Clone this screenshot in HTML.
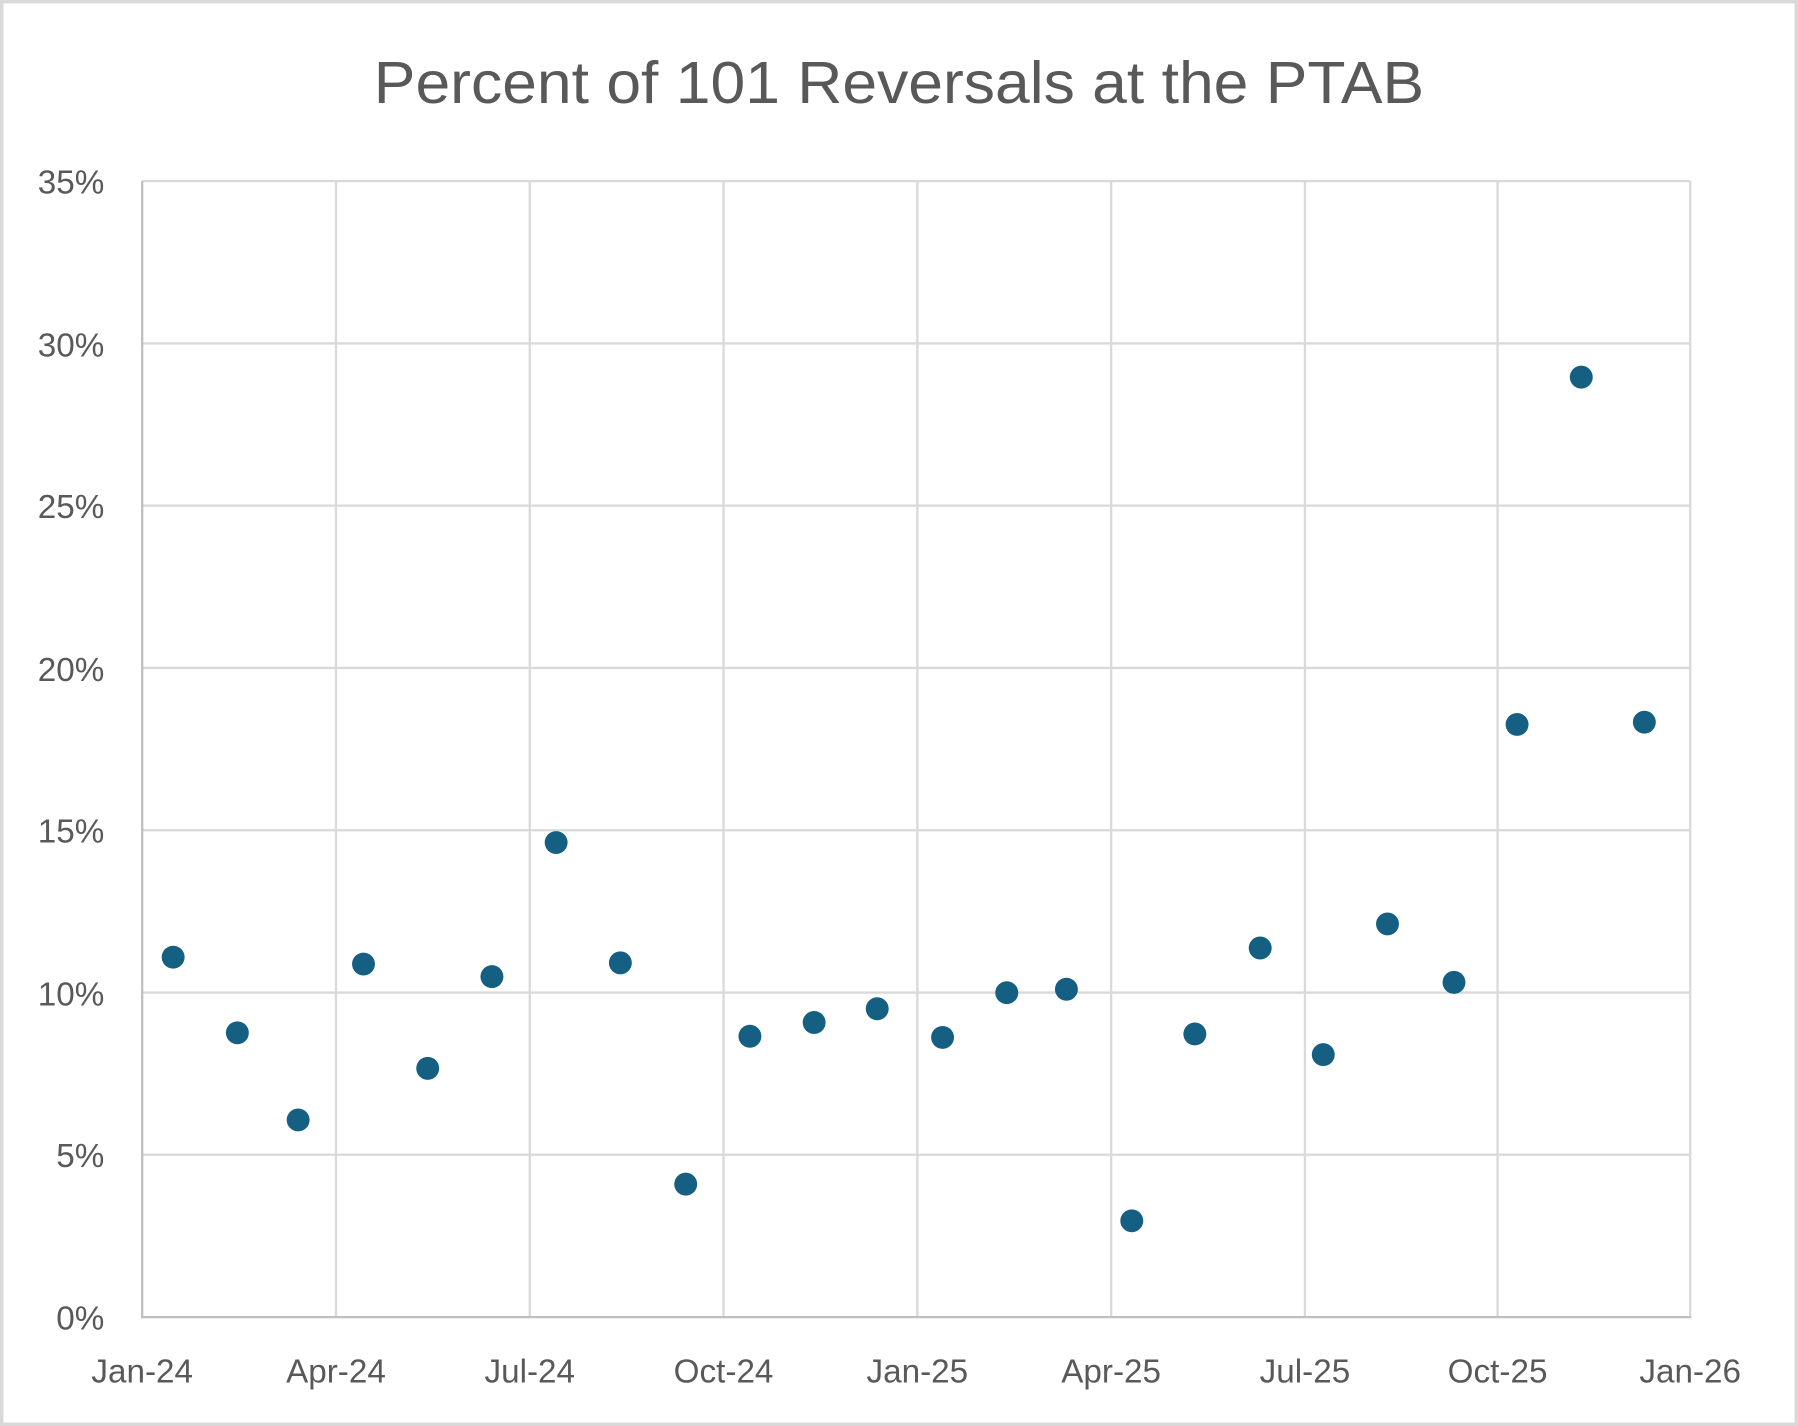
<!DOCTYPE html>
<html><head><meta charset="utf-8"><style>
html,body{margin:0;padding:0;background:#fff;}
svg{display:block;}
text{font-family:"Liberation Sans",sans-serif;fill:#595959;}
</style></head><body>
<svg width="1798" height="1426" viewBox="0 0 1568 1244" preserveAspectRatio="none">
<rect x="1.5" y="1.5" width="1565" height="1241" fill="#fff" stroke="#d9d9d9" stroke-width="3"/>
<text x="784" y="90" font-size="52" text-anchor="middle" textLength="916" lengthAdjust="spacingAndGlyphs">Percent of 101 Reversals at the PTAB</text>
<g stroke="#d9d9d9" stroke-width="2">
<line x1="124" y1="158" x2="1474" y2="158"/>
<line x1="124" y1="299.6" x2="1474" y2="299.6"/>
<line x1="124" y1="441.1" x2="1474" y2="441.1"/>
<line x1="124" y1="582.7" x2="1474" y2="582.7"/>
<line x1="124" y1="724.3" x2="1474" y2="724.3"/>
<line x1="124" y1="865.9" x2="1474" y2="865.9"/>
<line x1="124" y1="1007.4" x2="1474" y2="1007.4"/>
<line x1="293" y1="158" x2="293" y2="1149"/>
<line x1="462" y1="158" x2="462" y2="1149"/>
<line x1="631" y1="158" x2="631" y2="1149"/>
<line x1="800" y1="158" x2="800" y2="1149"/>
<line x1="969" y1="158" x2="969" y2="1149"/>
<line x1="1138" y1="158" x2="1138" y2="1149"/>
<line x1="1306" y1="158" x2="1306" y2="1149"/>
<line x1="1474" y1="158" x2="1474" y2="1149"/>
</g>
<g stroke="#bfbfbf" stroke-width="2">
<line x1="124" y1="158" x2="124" y2="1150"/>
<line x1="123" y1="1149" x2="1475" y2="1149"/>
</g>
<g font-size="29" text-anchor="end">
<text x="91" y="169">35%</text>
<text x="91" y="311">30%</text>
<text x="91" y="452">25%</text>
<text x="91" y="594">20%</text>
<text x="91" y="735">15%</text>
<text x="91" y="877">10%</text>
<text x="91" y="1018">5%</text>
<text x="91" y="1160">0%</text>
</g>
<g font-size="29" text-anchor="middle">
<text x="124" y="1206">Jan-24</text>
<text x="293" y="1206">Apr-24</text>
<text x="462" y="1206">Jul-24</text>
<text x="631" y="1206">Oct-24</text>
<text x="800" y="1206">Jan-25</text>
<text x="969" y="1206">Apr-25</text>
<text x="1138" y="1206">Jul-25</text>
<text x="1306" y="1206">Oct-25</text>
<text x="1474" y="1206">Jan-26</text>
</g>
<g fill="#156082">
<circle cx="151" cy="835" r="10"/>
<circle cx="207" cy="901" r="10"/>
<circle cx="260" cy="977" r="10"/>
<circle cx="317" cy="841" r="10"/>
<circle cx="373" cy="932" r="10"/>
<circle cx="429" cy="852" r="10"/>
<circle cx="485" cy="735" r="10"/>
<circle cx="541" cy="840" r="10"/>
<circle cx="598" cy="1033" r="10"/>
<circle cx="654" cy="904" r="10"/>
<circle cx="710" cy="892" r="10"/>
<circle cx="765" cy="880" r="10"/>
<circle cx="822" cy="905" r="10"/>
<circle cx="878" cy="866" r="10"/>
<circle cx="930" cy="863" r="10"/>
<circle cx="987" cy="1065" r="10"/>
<circle cx="1042" cy="902" r="10"/>
<circle cx="1099" cy="827" r="10"/>
<circle cx="1154" cy="920" r="10"/>
<circle cx="1210" cy="806" r="10"/>
<circle cx="1268" cy="857" r="10"/>
<circle cx="1323" cy="632" r="10"/>
<circle cx="1379" cy="329" r="10"/>
<circle cx="1434" cy="630" r="10"/>
</g>
</svg>
</body></html>
